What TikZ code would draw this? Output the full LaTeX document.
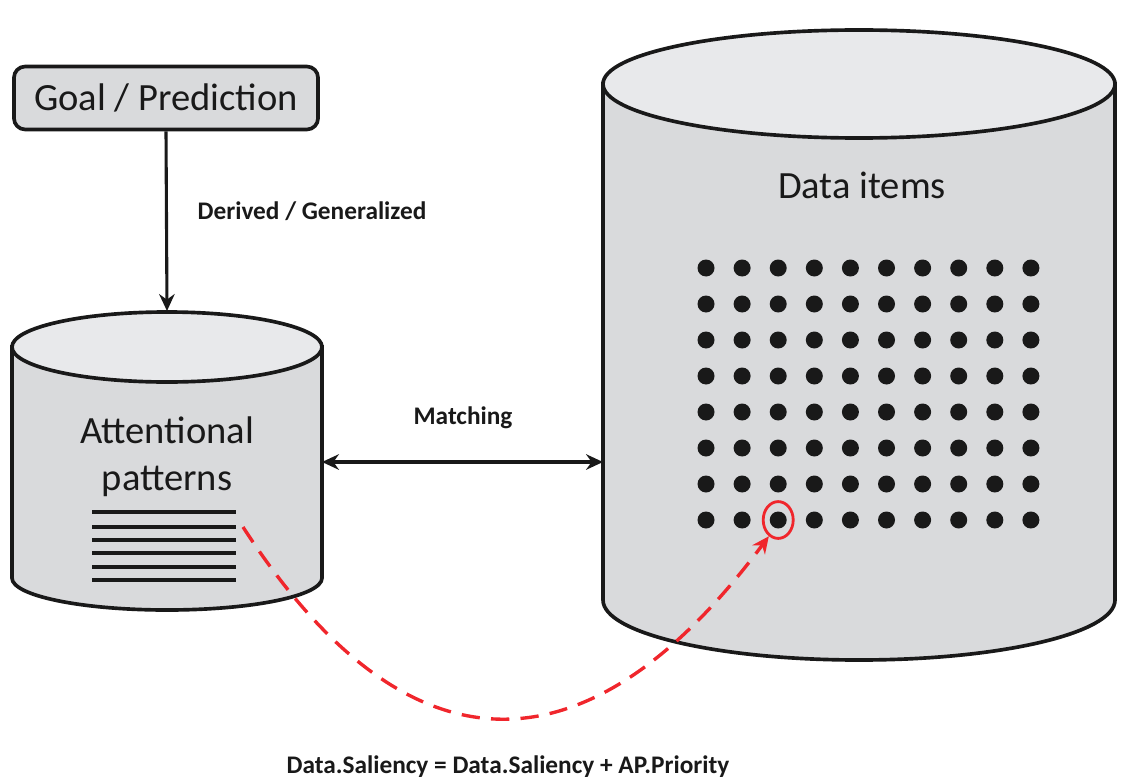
\documentclass[tikz,border=0pt]{standalone}
\usepackage{fontspec}
\setmainfont{Carlito}
\usetikzlibrary{arrows.meta,shapes.geometric}

\definecolor{cylside}{HTML}{D9DADC}
\definecolor{cyltop}{HTML}{E8E9EB}
\definecolor{hitred}{HTML}{F0262C}

\begin{document}
\begin{tikzpicture}[x=0.025cm,y=-0.025cm]
\tikzstyle{every node}+=[inner sep=0pt]
\tikzstyle{outline}=[draw=black!90,line width=2.6pt]
\tikzstyle{bigtext}=[font=\fontsize{27.4}{33.4}\selectfont,text=black!90]
\tikzstyle{boldtext}=[font=\fontsize{18}{22}\selectfont\bfseries,text=black!90]
\tikzstyle{arrow}=[draw=black!90,line width=2.2pt,-{Stealth[length=12pt,width=11pt]}]
\useasboundingbox (0,0) rectangle (1122,781);
% goal box
\node [outline,fill=cylside,rounded corners=8pt,minimum width=7.6cm,minimum height=1.575cm,bigtext] (goal) at (166,98) {Goal / Prediction};
% attentional patterns cylinder
\draw [outline,fill=cylside] (12,347) -- (12,578) arc [start angle=180,end angle=0,x radius=155,y radius=32] -- (322,347) -- cycle;
\draw [outline,fill=cyltop] (167,347) ellipse [x radius=155,y radius=35];
\node [bigtext,align=center] (aptext) at (167,457) {Attentional\\patterns};
\foreach \y in {512,527,540,553,567,580} \draw [black!90,line width=2.8pt] (92,\y) -- (236,\y);
\coordinate (aptop) at (167,311);
\coordinate (apright) at (322,462);
\coordinate (apline) at (243,527);
% data items cylinder
\draw [outline,fill=cylside] (603,84) -- (603,600) arc [start angle=180,end angle=0,x radius=256,y radius=60] -- (1115,84) -- cycle;
\draw [outline,fill=cyltop] (859,84) ellipse [x radius=256,y radius=54];
\node [bigtext] (ditext) at (862,185) {Data items};
\coordinate (dileft) at (603,462);
\foreach \i in {0,...,9}
  \foreach \j in {0,...,7}
    \fill [black!90] (706+36.1*\i,268+36*\j) circle [radius=8.5];
\node [draw=hitred,line width=2pt,ellipse,minimum width=0.75cm,minimum height=0.92cm] (hit) at (778.2,520) {};
% connectors
\draw [arrow] (goal.south) -- (aptop);
\node [boldtext] (derived) at (312,211) {Derived / Generalized};
\draw [arrow,{Stealth[length=12pt,width=11pt]}-{Stealth[length=12pt,width=11pt]}] (apright) -- (dileft);
\node [boldtext] (matching) at (463,418) {Matching};
\draw [hitred,line width=2.4pt,dash pattern=on 13pt off 8pt,-{Stealth[length=12pt,width=11pt]}] (apline) .. controls (400,770) and (580,790) .. (hit.-120);
\node [boldtext] (saliency) at (508,767) {Data.Saliency = Data.Saliency + AP.Priority};
\end{tikzpicture}
\end{document}
